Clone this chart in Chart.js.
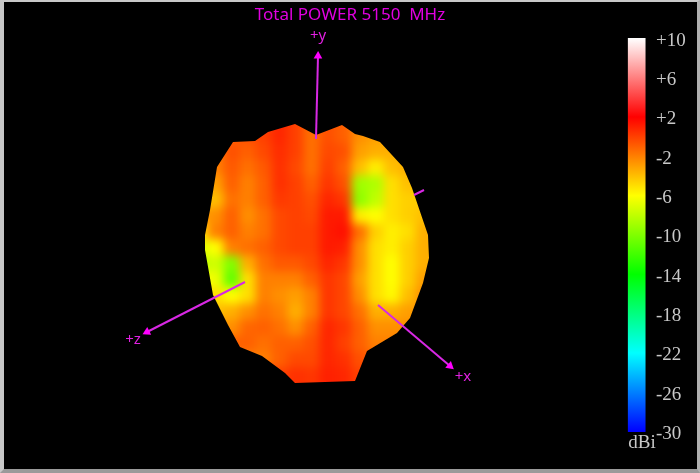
<!DOCTYPE html>
<html>
<head>
<meta charset="utf-8">
<title>Total POWER 5150 MHz</title>
<script src="https://cdn.jsdelivr.net/npm/chart.js@4"></script>
<style>
  html, body { margin: 0; padding: 0; background: #000; }
  #wrap { position: relative; width: 700px; height: 473px; overflow: hidden; }
  #frame { position: absolute; inset: 0; box-sizing: border-box; pointer-events: none;
           border-style: solid; border-width: 2px 3px 4px 4px; border-color: #c8c8c8 #b0b0b0 #9a9a9a #c8c8c8; }
</style>
</head>
<body>
<div id="wrap">
  <canvas id="pattern" width="700" height="473"></canvas>
  <div id="frame"></div>
</div>
<script>
// colour scale (dBi)
const scaleStops = [-30, -22, -14, -6, 2, 10];
const scaleColors = [[0, 0, 255], [0, 255, 255], [0, 255, 0], [255, 255, 0], [255, 0, 0], [255, 255, 255]];
const scaleTicks = [10, 6, 2, -2, -6, -10, -14, -18, -22, -26, -30];

const gridX = [200, 216, 232, 248, 264, 280, 296, 312, 328, 344, 360, 376, 392, 408, 424, 440];
const gridY = [120, 136, 152, 168, 184, 200, 216, 232, 248, 264, 280, 296, 312, 328, 344, 360, 376, 392];
const gainRows = [
  [-2, -2, -1, -0.5, 0, 0.8, 0, -1.5, -0.5, -1, -2.5, -3, -3, -3, -3, -3],
  [-2, -2, -1, -0.5, 0, 0.8, 0, -1.5, -0.5, -1, -2.5, -3, -3, -3, -3, -3],
  [-2, -2, -0.5, -1, -0.3, 0.6, 0, -1.5, -0.3, -0.5, -3, -3.5, -3.5, -3.5, -3.5, -3.5],
  [-2, -2, -0.8, -1.5, -0.8, 0.5, -0.3, -1.5, 0, -1, -4, -5.5, -4, -3.5, -3.5, -3.5],
  [-3, -3, -1, -2, -1, 0.5, 0, -1, 0.3, -0.5, -9, -8.5, -5, -4, -4, -4],
  [-4, -4, -1.5, -2, -1, 0.2, 0, -0.5, 0.8, 0.3, -9.5, -8, -5, -4.5, -4.5, -4.5],
  [-3, -2.5, -1, -2.5, -1.5, -0.3, 0, -0.3, 1.2, 1.2, -5.5, -6, -5, -4.5, -4, -4],
  [-5, -2, -1, -2, -1.5, -0.3, 0, 0, 1.2, 1.5, -1.5, -4.5, -5.5, -5, -3.5, -3.5],
  [-7, -6, -2, -1.5, -1, -0.3, 0, 0, 1.2, 1, -2.5, -5, -5.5, -4.5, -3.5, -3.5],
  [-8, -7.5, -10, -3.5, -1.5, -0.8, -0.8, -0.3, 0.8, 0.3, -2.5, -5, -6, -4.5, -3.5, -3.5],
  [-6, -6.5, -11, -5, -2, -2, -2, -1, 0.3, -0.2, -3, -5, -6, -4.5, -3, -3],
  [-5, -5, -6, -5, -2, -2.5, -3, -2, 0.3, -0.2, -2.5, -5, -5.8, -4, -2.5, -2.5],
  [-4, -4, -3.5, -2.5, -1.5, -2, -3.5, -2, 0.3, -0.2, -1.5, -3.5, -3.5, -3, -2.5, -2.5],
  [-2.5, -2.5, -2.5, -1.2, -1, -1.5, -2.5, -1, 0.8, 0.3, -1, -2.5, -2.5, -2.5, -2.5, -2.5],
  [-1, -1, -1, -1, -1.5, -1, -1, -0.5, 0.8, 0, -1, -2, -2, -2, -2, -2],
  [-2, -2, -2, -2, -2, -1, -0.3, -0.3, 0.8, 0.5, -0.5, -1, -1, -1, -1, -1],
  [0, 0, 0, 0, 0, 0, 0.5, 0.3, 1, 0.8, 0, 0, 0, 0, 0, 0],
  [0, 0, 0, 0, 0, 0, 0.5, 0.3, 1, 0.8, 0, 0, 0, 0, 0, 0]
];

// silhouette of the pattern
const outlineX = [295, 316, 342, 355, 363, 380, 403, 412, 428, 429, 423, 410, 397, 367, 355, 295, 285, 262, 240, 228, 213, 205, 205, 210, 217, 233, 255, 268];
const outlineY = [124, 135, 125, 134, 136, 142, 167, 188, 235, 258, 283, 318, 333, 351, 381, 383, 373, 356, 347, 325, 295, 250, 235, 210, 167, 142, 141, 132];

// axis arrows
const axisYx = [316, 318], axisYy = [139, 56];
const axisZx = [245, 147], axisZy = [282, 332];
const axisXx = [378, 450], axisXy = [305, 366];
const axisBackX = [414, 424], axisBackY = [195, 190];

const titleText = "Total POWER 5150  MHz";
const axisLabels = ["+y", "+z", "+x"];
const axisLabelX = [318, 133, 463];
const axisLabelY = [36, 340, 377];

const MAGENTA = "#d828e4";

function gainColor(v) {
  let i = 0;
  while (i < scaleStops.length - 2 && v > scaleStops[i + 1]) i++;
  const t = (v - scaleStops[i]) / (scaleStops[i + 1] - scaleStops[i]);
  const c = scaleColors[i].map((a, k) => Math.round(a + (scaleColors[i + 1][k] - a) * t));
  return `rgb(${c[0]},${c[1]},${c[2]})`;
}

function pairs(xs, ys) {
  return xs.map((x, i) => ({ x: x, y: ys[i] }));
}

function headAngle(xs, ys) {
  return Math.atan2(xs[1] - xs[0], ys[0] - ys[1]) * 180 / Math.PI;
}

function axisDataset(xs, ys, arrow) {
  return {
    data: pairs(xs, ys),
    showLine: true,
    borderColor: MAGENTA,
    borderWidth: 2,
    pointStyle: "triangle",
    pointRadius: arrow ? [0, 5] : 0,
    pointRotation: headAngle(xs, ys),
    pointBackgroundColor: "#ff00ff",
    pointBorderWidth: 0
  };
}

const surfacePoints = [], surfaceColors = [];
gainRows.forEach((row, r) => {
  row.forEach((v, c) => {
    surfacePoints.push({ x: gridX[c], y: gridY[r] });
    surfaceColors.push(gainColor(v));
  });
});

// smooths the gain cells as one layer and trims them to the silhouette
const surfacePlugin = {
  id: "surface",
  afterDatasetDraw(chart, args) {
    if (chart.data.datasets[args.index].label !== "surface") return;
    const ctx = chart.ctx, sx = chart.scales.x, sy = chart.scales.y;
    const left = Math.floor(sx.getPixelForValue(gridX[0] - 12));
    const top = Math.floor(sy.getPixelForValue(gridY[0] - 12));
    const w = Math.ceil(sx.getPixelForValue(gridX[gridX.length - 1] + 12)) - left;
    const h = Math.ceil(sy.getPixelForValue(gridY[gridY.length - 1] + 12)) - top;
    const layer = document.createElement("canvas");
    layer.width = w;
    layer.height = h;
    layer.getContext("2d").drawImage(chart.canvas, left, top, w, h, 0, 0, w, h);
    ctx.clearRect(left, top, w, h);
    ctx.save();
    ctx.beginPath();
    outlineX.forEach((x, i) => {
      ctx.lineTo(sx.getPixelForValue(x), sy.getPixelForValue(outlineY[i]));
    });
    ctx.closePath();
    ctx.clip();
    ctx.filter = "blur(5px)";
    ctx.drawImage(layer, left, top);
    ctx.restore();
  },
  afterDatasetsDraw(chart) {
    const ctx = chart.ctx, sx = chart.scales.x, sy = chart.scales.y;
    ctx.save();
    ctx.textAlign = "center";
    ctx.textBaseline = "middle";
    ctx.font = "15px 'Noto Sans'";
    ctx.fillStyle = "#e020e0";
    axisLabels.forEach((t, i) => {
      ctx.fillText(t, sx.getPixelForValue(axisLabelX[i]), sy.getPixelForValue(axisLabelY[i]));
    });
    ctx.font = "19px 'Liberation Serif'";
    ctx.fillStyle = "#c8c8c8";
    ctx.fillText("dBi", sx.getPixelForValue(642), sy.getPixelForValue(443));
    ctx.restore();
  }
};

new Chart(document.getElementById("pattern").getContext("2d"), {
  type: "scatter",
  plugins: [surfacePlugin],
  data: {
    datasets: [
      axisDataset(axisYx, axisYy, true),
      axisDataset(axisZx, axisZy, true),
      axisDataset(axisXx, axisXy, true),
      axisDataset(axisBackX, axisBackY, false),
      {
        label: "surface",
        data: surfacePoints,
        pointStyle: "rect",
        pointRadius: 12,
        pointBorderWidth: 0,
        pointBackgroundColor: surfaceColors
      },
      {
        type: "bar",
        yAxisID: "yBar",
        data: [{ x: 636.7, y: [-30, 10] }],
        barThickness: 17,
        backgroundColor(c) {
          const s = c.chart.scales.yBar;
          const top = s ? s.getPixelForValue(10) : NaN;
          const bottom = s ? s.getPixelForValue(-30) : NaN;
          if (!Number.isFinite(top) || !Number.isFinite(bottom)) return "#000";
          const g = c.chart.ctx.createLinearGradient(0, bottom, 0, top);
          scaleStops.forEach((v, i) => g.addColorStop(i / (scaleStops.length - 1), gainColor(v)));
          return g;
        }
      }
    ]
  },
  options: {
    responsive: false,
    animation: false,
    layout: { padding: 0, autoPadding: false },
    plugins: {
      legend: { display: false },
      tooltip: { enabled: false },
      title: {
        display: true,
        text: titleText,
        color: "#e000e0",
        font: { family: "'Noto Sans'", size: 17, weight: "normal", lineHeight: 1.25 },
        padding: { top: 5, bottom: 0 }
      }
    },
    scales: {
      x: { type: "linear", min: 0, max: 700, offset: false, display: false },
      y: { type: "linear", min: 26.25, max: 473, reverse: true, display: false },
      yBar: { type: "linear", min: -34.2, max: 11.225, display: false },
      yTicks: {
        type: "linear",
        position: "left",
        min: -33.95,
        max: 11.475,
        afterBuildTicks(scale) { scale.ticks = scaleTicks.map(v => ({ value: v })); },
        afterFit(scale) {
          scale.width = 0;
          scale.paddingTop = scale.paddingBottom = scale.paddingLeft = scale.paddingRight = 0;
        },
        grid: { display: false },
        border: { display: false },
        ticks: {
          mirror: true,
          padding: 656,
          autoSkip: false,
          color: "#c8c8c8",
          font: { family: "'Liberation Serif'", size: 19 },
          callback: v => (v > 0 ? "+" + v : String(v))
        }
      }
    }
  }
});
</script>
</body>
</html>
